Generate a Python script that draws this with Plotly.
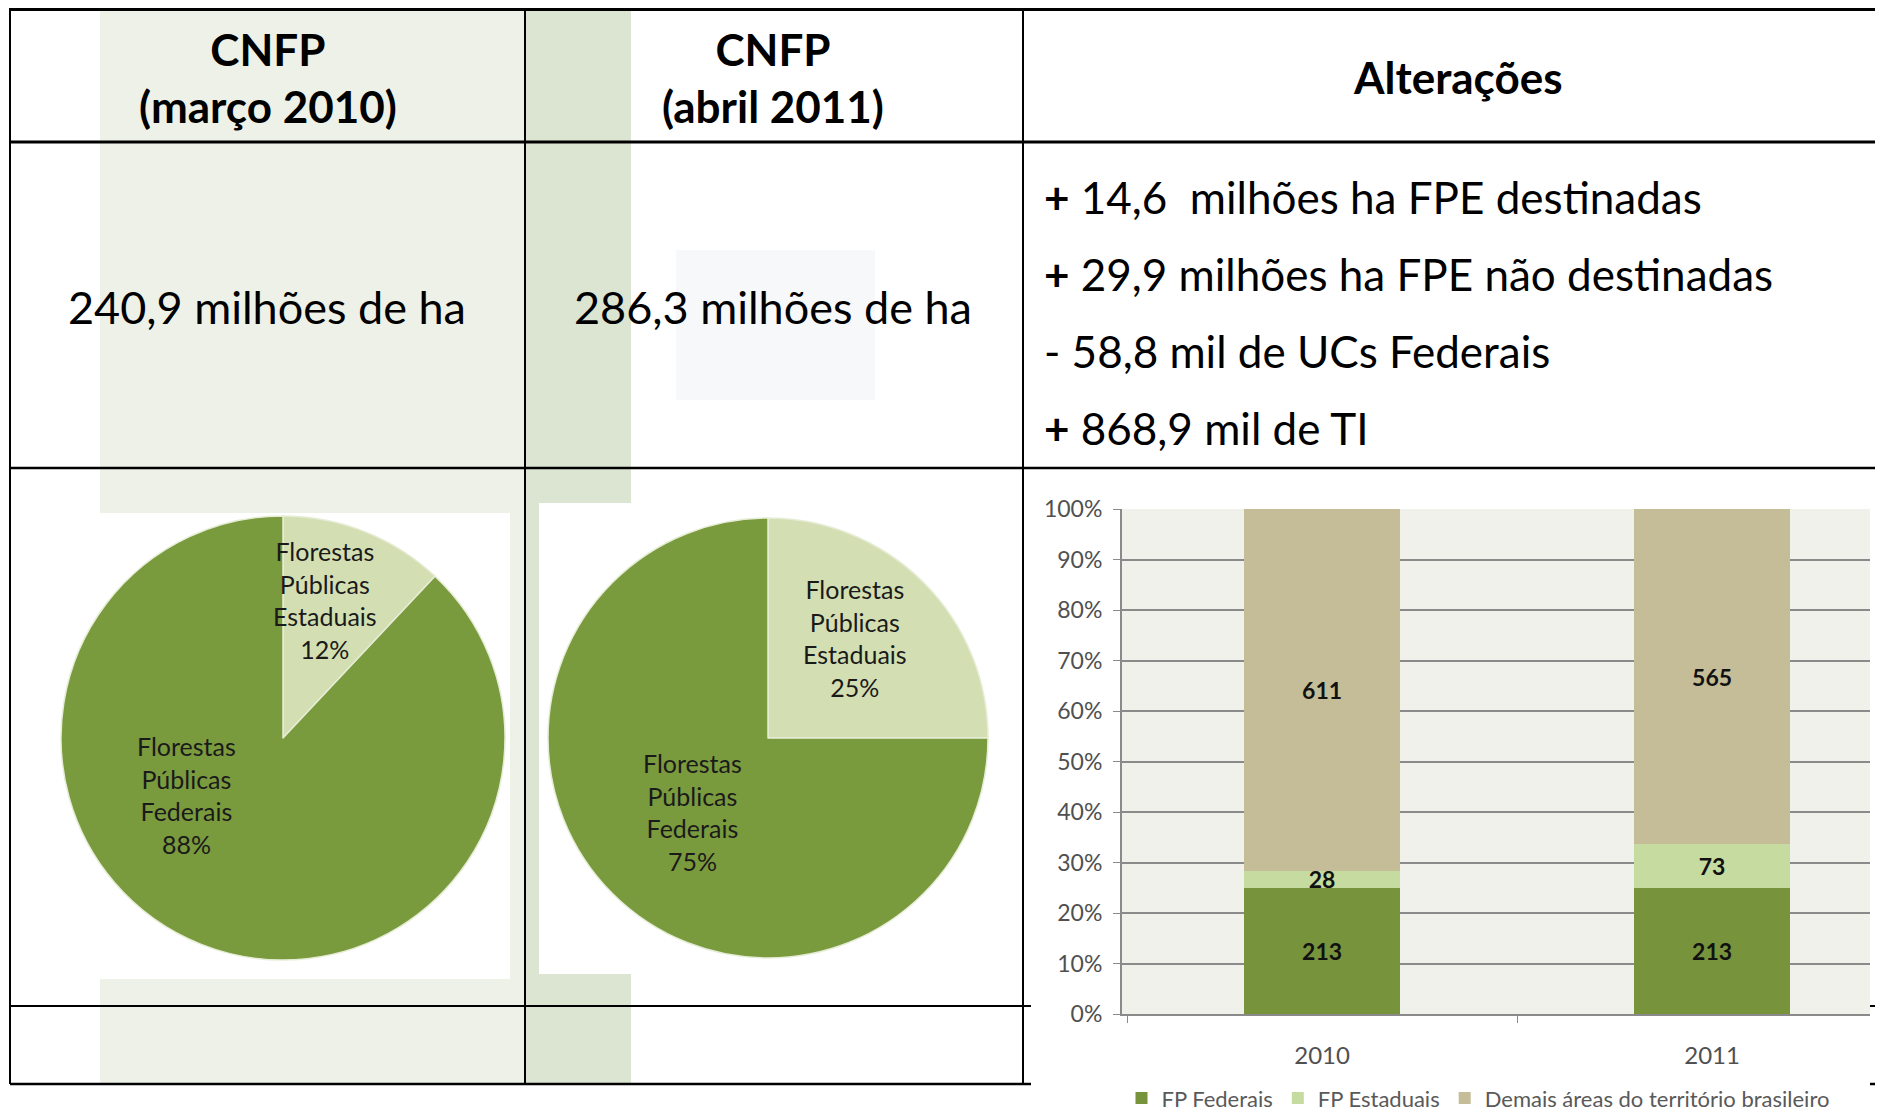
import plotly.graph_objects as go

W, H = 1883, 1114
OFF = 8  # page body margin: figure origin sits at (8, 8) in the browser

# ---------------- data ----------------
header_titles = ["CNFP<br>(março 2010)", "CNFP<br>(abril 2011)", "Alterações"]
totals = ["240,9 milhões de ha", "286,3 milhões de ha"]
change_signs = ["+", "+", "-", "+"]
change_texts = ["14,6  milhões ha FPE destinadas",
                "29,9 milhões ha FPE não destinadas",
                "58,8 mil de UCs Federais",
                "868,9 mil de TI"]

pie_labels = ["Florestas<br>Públicas<br>Estaduais", "Florestas<br>Públicas<br>Federais"]
pie_2010 = [12, 88]
pie_2011 = [25, 75]
pie_colors = ["#d3dfb3", "#7a9a3e"]

years = ["2010", "2011"]
series_names = ["FP Federais", "FP Estaduais", "Demais áreas do território brasileiro"]
fp_federais = [213, 213]
fp_estaduais = [28, 73]
demais_areas = [611, 565]
bar_colors = ["#77933c", "#c6dba0", "#c4bd97"]
y_tick_vals = [0, 10, 20, 30, 40, 50, 60, 70, 80, 90, 100]
y_tick_text = [f"{v}%" for v in y_tick_vals]

FONT = "Lato"


def fx(px):
    return (px - OFF) / W


def fy(py):
    return 1 - (py - OFF) / H


fig = go.Figure()

# ---------------- pies ----------------
r1 = 222
c1 = (283, 738)
fig.add_trace(go.Pie(
    labels=pie_labels, values=pie_2010, sort=False, direction="clockwise", rotation=0,
    marker=dict(colors=pie_colors, line=dict(color="#e6edd6", width=1.5)),
    textinfo="none", showlegend=False, hoverinfo="label+percent",
    domain=dict(x=[fx(c1[0] - r1), fx(c1[0] + r1)], y=[fy(c1[1] + r1), fy(c1[1] - r1)]),
))
r2 = 220
c2 = (768, 738)
fig.add_trace(go.Pie(
    labels=pie_labels, values=pie_2011, sort=False, direction="clockwise", rotation=0,
    marker=dict(colors=pie_colors, line=dict(color="#e6edd6", width=1.5)),
    textinfo="none", showlegend=False, hoverinfo="label+percent",
    domain=dict(x=[fx(c2[0] - r2), fx(c2[0] + r2)], y=[fy(c2[1] + r2), fy(c2[1] - r2)]),
))

# ---------------- stacked bars ----------------
for name, vals, col in zip(series_names, [fp_federais, fp_estaduais, demais_areas], bar_colors):
    fig.add_trace(go.Bar(
        x=years, y=vals, name=name, marker=dict(color=col, line=dict(width=0)),
        width=0.4, text=[str(v) for v in vals], texttemplate="%{text}",
        textposition="inside", insidetextanchor="middle", textangle=0,
        textfont=dict(family=FONT, size=23, color="#111111", weight="bold"),
        xaxis="x", yaxis="y",
    ))

fig.update_layout(
    barmode="stack", barnorm="percent",
    width=W, height=H, margin=dict(l=0, r=0, t=0, b=0, pad=0, autoexpand=False),
    paper_bgcolor="white", plot_bgcolor="#eff1ea",
    uniformtext=dict(minsize=23, mode="show"),
    font=dict(family=FONT, color="#111111"),
    xaxis=dict(domain=[fx(1122), fx(1870)], range=[-0.513, 1.405], type="category",
               showgrid=False, showline=True, linecolor="#8a8a8a", linewidth=2,
               tickson="boundaries", ticks="outside", ticklen=7, tickcolor="#8a8a8a",
               tickfont=dict(family=FONT, size=24, color="#505050"),
               ticklabelstandoff=19, zeroline=False, fixedrange=True, automargin=False),
    yaxis=dict(domain=[fy(1014), fy(509)], range=[0, 100], tickvals=y_tick_vals,
               ticktext=y_tick_text, showgrid=True, gridcolor="#8a8a8a", gridwidth=2,
               showline=True, linecolor="#8a8a8a", linewidth=2, ticks="outside",
               ticklen=7, tickcolor="#8a8a8a",
               tickfont=dict(family=FONT, size=23, color="#505050"),
               ticklabelstandoff=6, zeroline=False, fixedrange=True, automargin=False),
    legend=dict(orientation="h", x=fx(1478), xanchor="center", y=0.0025, yanchor="bottom",
                font=dict(family=FONT, size=22, color="#595959"), itemwidth=30,
                traceorder="normal", bgcolor="rgba(0,0,0,0)", tracegroupgap=0),
)

# ---------------- background shapes ----------------
shapes = []
shapes.append(dict(type="rect", xref="paper", yref="paper", x0=fx(100), x1=fx(525), y0=fy(1084), y1=fy(9),
                   fillcolor="rgba(150,170,110,0.16)", line=dict(width=0), layer="below"))
shapes.append(dict(type="rect", xref="paper", yref="paper", x0=fx(525), x1=fx(631), y0=fy(1084), y1=fy(9),
                   fillcolor="rgba(120,150,80,0.26)", line=dict(width=0), layer="below"))
shapes.append(dict(type="rect", xref="paper", yref="paper", x0=fx(676), x1=fx(875), y0=fy(400), y1=fy(250),
                   fillcolor="rgba(140,160,190,0.08)", line=dict(width=0), layer="below"))
shapes.append(dict(type="rect", xref="paper", yref="paper", x0=fx(26), x1=fx(510), y0=fy(979), y1=fy(513),
                   fillcolor="white", line=dict(width=0), layer="below"))
shapes.append(dict(type="rect", xref="paper", yref="paper", x0=fx(539), x1=fx(877), y0=fy(974), y1=fy(503),
                   fillcolor="white", line=dict(width=0), layer="below"))


def hline(y, x0, x1, w=2.5):
    shapes.append(dict(type="line", xref="paper", yref="paper", x0=fx(x0), x1=fx(x1), y0=fy(y), y1=fy(y),
                       line=dict(color="black", width=w), layer="below"))


def vline(x, y0, y1, w=2):
    shapes.append(dict(type="line", xref="paper", yref="paper", x0=fx(x), x1=fx(x), y0=fy(y0), y1=fy(y1),
                       line=dict(color="black", width=w), layer="below"))


hline(9.5, 10, 1891, 3)
hline(142, 10, 1891, 3)
hline(468, 10, 1891, 2.5)
hline(1006, 10, 1031, 2)
hline(1006, 1870, 1891, 2)
hline(1084, 10, 1031, 2.5)
hline(1084, 1870, 1891, 2.5)
vline(10, 8, 1084)
vline(525, 8, 1084)
vline(1023, 8, 1084)
fig.update_layout(shapes=shapes)

# ---------------- text ----------------
ann = []
for txt, cx, cy in zip(header_titles, [268, 773, 1458], [77, 77, 77]):
    ann.append(dict(text=f"<b>{txt}</b>", x=fx(cx), y=fy(cy), xref="paper", yref="paper",
                    showarrow=False, font=dict(family=FONT, size=44, color="black"),
                    xanchor="center", yanchor="middle", align="center"))
for txt, cx in zip(totals, [267, 773]):
    ann.append(dict(text=txt, x=fx(cx), y=fy(307), xref="paper", yref="paper",
                    showarrow=False, font=dict(family=FONT, size=45, color="black"),
                    xanchor="center", yanchor="middle"))
for s, txt, cy in zip(change_signs, change_texts, [197, 274, 351, 428]):
    sign = f"<b>{s}</b>" if s == "+" else s
    ann.append(dict(text=f"{sign} {txt}", x=fx(1042), y=fy(cy), xref="paper", yref="paper",
                    showarrow=False, font=dict(family=FONT, size=44, color="black"),
                    xanchor="left", yanchor="middle"))

pie_label_pos = {
    "2010": [(325, 600), (186, 795)],
    "2011": [(855, 638), (692, 812)],
}
for key, vals in [("2010", pie_2010), ("2011", pie_2011)]:
    total = sum(vals)
    for lab, v, (px, py) in zip(pie_labels, vals, pie_label_pos[key]):
        ann.append(dict(text=f"{lab}<br>{round(100 * v / total)}%", x=fx(px), y=fy(py),
                        xref="paper", yref="paper", showarrow=False,
                        font=dict(family=FONT, size=25, color="#1a1a1a"),
                        xanchor="center", yanchor="middle", align="center"))
fig.update_layout(annotations=ann)

fig.write_html("out.html")
